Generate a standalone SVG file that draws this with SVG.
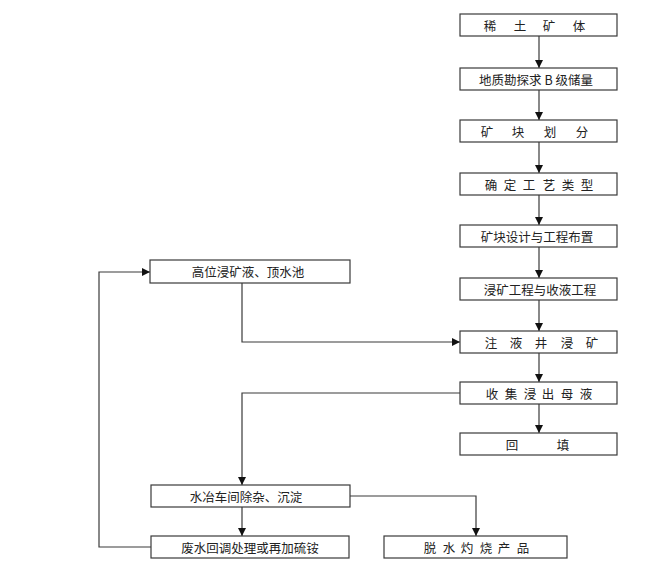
<svg xmlns="http://www.w3.org/2000/svg" width="655" height="570" viewBox="0 0 655 570">
<style>
.box{fill:#fff;stroke:#3a3a3a;stroke-width:1.2}
.t{font-family:"Noto Sans CJK SC","Liberation Serif",serif;font-size:12.5px;fill:#222;text-anchor:middle;dominant-baseline:central}
.ln{fill:none;stroke:#3a3a3a;stroke-width:1.2}
</style>
<defs>
<marker id="ah" markerUnits="userSpaceOnUse" markerWidth="8" markerHeight="8" refX="8" refY="4" orient="auto">
<path d="M0,0 L8,4 L0,8 z" fill="#111"/>
</marker>
</defs>
<rect width="655" height="570" fill="#fff"/>
<g id="connectors">
<path class="ln" marker-end="url(#ah)" d="M539,36 V68"/>
<path class="ln" marker-end="url(#ah)" d="M539,90 V120"/>
<path class="ln" marker-end="url(#ah)" d="M539,142 V173"/>
<path class="ln" marker-end="url(#ah)" d="M539,195 V225"/>
<path class="ln" marker-end="url(#ah)" d="M539,247 V278"/>
<path class="ln" marker-end="url(#ah)" d="M539,300 V331"/>
<path class="ln" marker-end="url(#ah)" d="M539,353 V382"/>
<path class="ln" marker-end="url(#ah)" d="M539,404 V433"/>
<path class="ln" marker-end="url(#ah)" d="M242,283 V342 H460"/>
<path class="ln" marker-end="url(#ah)" d="M460,393 H242 V485"/>
<path class="ln" marker-end="url(#ah)" d="M242,507 V536"/>
<path class="ln" marker-end="url(#ah)" d="M350,496 H476 V536"/>
<path class="ln" marker-end="url(#ah)" d="M151,547 H99 V272 H150"/>
</g>
<g id="n1"><rect class="box" x="460" y="14" width="157" height="22"/><text class="t" x="490 520 549 579" y="25">稀土矿体</text></g>
<g id="n2"><rect class="box" x="460" y="68" width="157" height="22"/><text class="t" x="536" y="79">地质勘探求 B 级储量</text></g>
<g id="n3"><rect class="box" x="460" y="120" width="157" height="22"/><text class="t" x="487 518 550 582" y="131">矿块划分</text></g>
<g id="n4"><rect class="box" x="460" y="173" width="157" height="22"/><text class="t" x="491 510 529 549 568 587" y="184">确定工艺类型</text></g>
<g id="n5"><rect class="box" x="460" y="225" width="157" height="22"/><text class="t" x="537" y="236">矿块设计与工程布置</text></g>
<g id="n6"><rect class="box" x="460" y="278" width="157" height="22"/><text class="t" x="540" y="289">浸矿工程与收液工程</text></g>
<g id="n7"><rect class="box" x="460" y="331" width="157" height="22"/><text class="t" x="491 516 541 567 592" y="342">注液井浸矿</text></g>
<g id="n8"><rect class="box" x="460" y="382" width="157" height="22"/><text class="t" x="492 511 530 548 567 586" y="393">收集浸出母液</text></g>
<g id="n9"><rect class="box" x="460" y="433" width="157" height="22"/><text class="t" x="512 563" y="444">回填</text></g>
<g id="n10"><rect class="box" x="150" y="260" width="200" height="23"/><text class="t" x="248" y="271.5">高位浸矿液、顶水池</text></g>
<g id="n11"><rect class="box" x="151" y="485" width="199" height="22"/><text class="t" x="246" y="496">水冶车间除杂、沉淀</text></g>
<g id="n12"><rect class="box" x="151" y="536" width="198" height="22"/><text class="t" x="250" y="547">废水回调处理或再加硫铵</text></g>
<g id="n13"><rect class="box" x="384" y="536" width="183" height="22"/><text class="t" x="430 449 467 486 504 523" y="547">脱水灼烧产品</text></g>
</svg>
